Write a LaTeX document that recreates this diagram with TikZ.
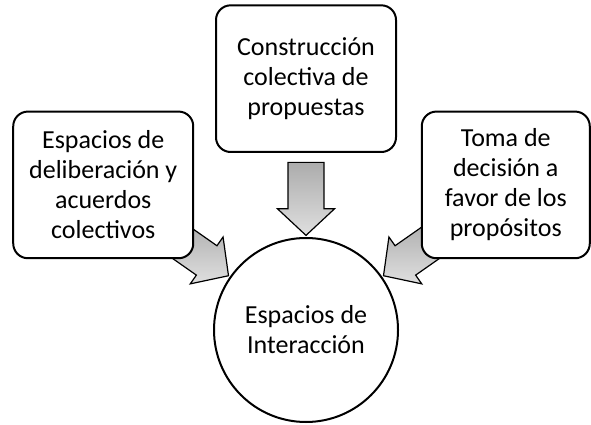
\documentclass[tikz,border=0pt]{standalone}
\usepackage{fontspec}
\setmainfont{Carlito}
\usepackage{tikz}
\usetikzlibrary{positioning,calc,shapes.arrows}
\tikzstyle{idea box}=[draw,line width=1.5pt,rounded corners=11pt,minimum width=135pt,minimum height=110pt,align=center,inner sep=2pt,fill=white]
\tikzstyle{fat arrow}=[single arrow,draw,line width=0.9pt,minimum height=54.75pt,minimum width=42pt,single arrow head extend=8pt,single arrow tip angle=94,inner xsep=0pt,inner ysep=13pt,top color=gray!65,bottom color=gray!25]
\newcommand{\ideanode}[3][]{
  \node [idea box, #1] (#2) {#3}
}

\begin{document}
\begin{tikzpicture}[x=0.75pt,y=0.75pt,node distance=1cm,font={\fontsize{19.5}{22.5}\selectfont}]
        \useasboundingbox (0,0) rectangle (591,424);
        \node [circle,draw,line width=1.5pt,minimum size=138pt,align=center] (circ) at (306,94) {Espacios de\\Interacción};
        \node [fat arrow, rotate=-90] (a2) at ($(circ.center)+(90:104.6pt)$) {};
        \node [fat arrow, rotate=-35] (a1) at ($(circ.center)+(145:104.6pt)$) {};
        \node [fat arrow, rotate=-145] (a3) at ($(circ.center)+(35:104.6pt)$) {};
         \ideanode[above=63pt of circ]{top}{Construcción\\colectiva de\\propuestas};
         \ideanode[above left=3.75pt and 34.5pt of circ]{left}{Espacios de\\deliberación y\\acuerdos\\colectivos};
          \ideanode[above right=3.75pt and 36.75pt of circ, minimum width=126pt]{right}{Toma de\\decisión a\\favor de los\\propósitos};
      \end{tikzpicture}
\end{document}
